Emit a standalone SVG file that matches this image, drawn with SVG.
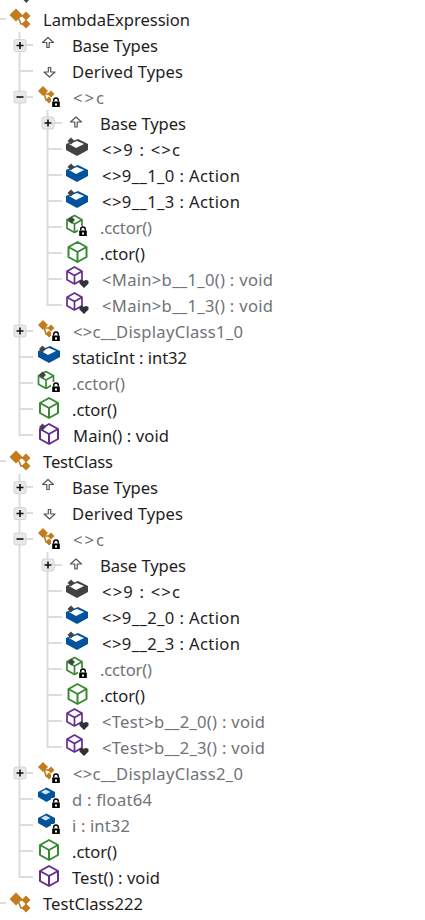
<svg xmlns="http://www.w3.org/2000/svg" width="425" height="920" viewBox="0 0 425 920">
<style>
text{font-family:"Noto Sans","Open Sans","Liberation Sans",sans-serif;font-size:16.6px;fill:#1e1e1e}
.g{fill:#6f7378}
.t{stroke:#dcdcdc;stroke-width:2;fill:none}
.k{fill:#c27c1e}
.kl{stroke:#c27c1e;stroke-width:1.6;fill:none}
.cube{stroke-width:2;stroke-linejoin:round}
.thin{stroke-width:1.7}
.green{stroke:#388a34;fill:#fff}
.purple{stroke:#652d90;fill:#fff}
</style>
<defs>
<g id="cls">
<path class="kl" d="M-2-3 1 4H6M0-4H6"/>
<path class="k" d="M-4-11.500 2.500-5-4 1.500-10.500-5Z"/>
<path class="k" d="M6-8.500 10.500-4 6 .5 1.500-4Z"/>
<path class="k" d="M6 -.5 10.500 4 6 8.500 1.500 4Z"/>
</g>
<g id="clsS">
<path class="kl" d="M-2-5 0 2H3M-1-4H5"/>
<path class="k" d="M-3-12 2-7-3-2-8-7Z"/>
<path class="k" d="M5-7.500 8.500-4 5-.5 1.500-4Z"/>
<path class="k" d="M3-1.500 6.500 2 3 5.500-.5 2Z"/>
</g>
<g id="lock">
<rect x="-5" y="-5.500" width="10" height="11.500" fill="#fff"/>
<path d="M-2.300-1V-2.200A2.300 2.300 0 0 1 2.300-2.200V-1" fill="none" stroke="#000" stroke-width="1.400"/>
<rect x="-3.800" y="-1" width="7.600" height="5.500" fill="#000"/>
<rect x="-1" y="1" width="2" height="2" fill="#fff"/>
</g>
<g id="heart">
<path d="M0 5-4.500 .5A2.600 2.600 0 0 1 0-2 2.600 2.600 0 0 1 4.500 .5Z" fill="#333"/>
</g>
<path id="dia" d="M0-3.500 3.500 0 0 3.500-3.500 0Z" fill="#444"/>
<g id="plus">
<rect x="-6" y="-6" width="12" height="12" rx="2" fill="#e8e8e8" stroke="#d4d4d4"/>
<path d="M-3.500 0H3.500M0-3.500V3.500" stroke="#111" stroke-width="1.600"/>
</g>
<g id="minus">
<rect x="-6" y="-6" width="12" height="12" rx="2" fill="#e8e8e8" stroke="#d4d4d4"/>
<path d="M-3.500 0H3.500" stroke="#111" stroke-width="1.600"/>
</g>
<path id="up" d="M0-7.500 5.500-2.500H1.200V2.500H-1.200V-2.500H-5.500Z" fill="#fff" stroke="#555" stroke-width="1.200" stroke-linejoin="round"/>
<path id="down" d="M0 5 5.500 0H1.200V-4.500H-1.200V0H-5.500Z" fill="#fff" stroke="#555" stroke-width="1.200" stroke-linejoin="round"/>
<g id="field">
<path d="M1-10 11-5V1L0 7-11 1V-5Z" fill="#00539c"/>
<path d="M0-8 7-5-1-1-8-5Z" fill="#fff"/>
</g>
<g id="fieldK">
<path d="M1-10 11-5V1L0 7-11 1V-5Z" fill="#424242"/>
<path d="M0-8 7-5-1-1-8-5Z" fill="#fff"/>
</g>
<g id="fieldS">
<path d="M0-7.500 8.500-3V2L0 7-8.500 2V-3Z" fill="#00539c"/>
<path d="M-1-5.500 4-3-1-.5-5.500-3Z" fill="#d6e4f2"/>
</g>
<g id="cube">
<path d="M0-10 9-5V5L0 10-9 5V-5Z"/>
<path d="M-9-5 0 0 9-5M0 0V10" fill="none"/>
</g>
<g id="cubeS">
<path d="M0-8.500 7.500-4.250V4.250L0 8.500-7.500 4.250V-4.250Z"/>
<path d="M-7.500-4.250 0 0 7.500-4.250M0 0V8.500" fill="none"/>
</g>
</defs>
<g id="connectors">
<path class="t" d="M0 19H6M0 461H6M0 903H6"/>
<path class="t" d="M19.500 32V435H33M19.500 45H33M19.500 71H33M19.500 97H33M19.500 331H33M19.500 357H33M19.500 383H33M19.500 409H33"/>
<path class="t" d="M47.500 110V305H62M47.500 123H62M47.500 149H62M47.500 175H62M47.500 201H62M47.500 227H62M47.500 253H62M47.500 279H62"/>
<path class="t" d="M19.500 474V877H33M19.500 487H33M19.500 513H33M19.500 539H33M19.500 773H33M19.500 799H33M19.500 825H33M19.500 851H33"/>
<path class="t" d="M47.500 552V747H62M47.500 565H62M47.500 591H62M47.500 617H62M47.500 643H62M47.500 669H62M47.500 695H62M47.500 721H62"/>
</g>
<path id="top-tip" d="M23.500 0H29L26.500 3Z" fill="#444"/>

<g id="n1"><use href="#cls" x="20" y="20"/><text x="43" y="26" textLength="147">LambdaExpression</text></g>
<g id="n2"><use href="#plus" x="20" y="45.500"/><use href="#up" x="48" y="45"/><text x="72" y="52" textLength="86">Base Types</text></g>
<g id="n3"><use href="#down" x="49.500" y="72"/><text x="72" y="78" textLength="111">Derived Types</text></g>
<g id="n4"><use href="#minus" x="20" y="97"/><use href="#clsS" x="46" y="98"/><use href="#lock" x="56" y="102.500"/><text class="g" x="73" y="104" textLength="31">&lt;&gt;c</text></g>
<g id="n5"><use href="#plus" x="48" y="123"/><use href="#up" x="76" y="124.500"/><text x="100" y="130" textLength="86">Base Types</text></g>
<g id="n6"><use href="#fieldK" x="77" y="149"/><use href="#dia" x="71" y="141"/><text x="102" y="156" textLength="78">&lt;&gt;9 : &lt;&gt;c</text></g>
<g id="n7"><use href="#field" x="77" y="175"/><use href="#dia" x="71" y="167"/><text x="102" y="182" textLength="138">&lt;&gt;9__1_0 : Action</text></g>
<g id="n8"><use href="#field" x="77" y="201"/><use href="#dia" x="71" y="193"/><text x="102" y="208" textLength="138">&lt;&gt;9__1_3 : Action</text></g>
<g id="n9"><use href="#cubeS" class="cube thin green" x="74.500" y="224"/><use href="#dia" x="71.500" y="220"/><use href="#lock" x="83" y="231.500"/><text class="g" x="100" y="234" textLength="52">.cctor()</text></g>
<g id="n10"><use href="#cube" class="cube green" x="77.500" y="252"/><text x="100" y="260" textLength="45">.ctor()</text></g>
<g id="n11"><use href="#cubeS" class="cube thin purple" x="74.500" y="275.500"/><use href="#heart" x="84" y="283"/><text class="g" x="102" y="286" textLength="171">&lt;Main&gt;b__1_0() : void</text></g>
<g id="n12"><use href="#cubeS" class="cube thin purple" x="74.500" y="301.500"/><use href="#heart" x="84" y="309"/><text class="g" x="102" y="312" textLength="171">&lt;Main&gt;b__1_3() : void</text></g>
<g id="n13"><use href="#plus" x="20" y="331"/><use href="#clsS" x="46" y="332"/><use href="#lock" x="56" y="336.500"/><text class="g" x="73" y="338" textLength="170">&lt;&gt;c__DisplayClass1_0</text></g>
<g id="n14"><use href="#field" x="49" y="356"/><use href="#dia" x="42.500" y="349"/><text x="72" y="364" textLength="115">staticInt : int32</text></g>
<g id="n15"><use href="#cubeS" class="cube thin green" x="46" y="380"/><use href="#dia" x="42.500" y="375"/><use href="#lock" x="56" y="387.500"/><text class="g" x="72" y="390" textLength="53">.cctor()</text></g>
<g id="n16"><use href="#cube" class="cube green" x="49" y="408"/><text x="72" y="416" textLength="45">.ctor()</text></g>
<g id="n17"><use href="#cube" class="cube purple" x="49" y="434"/><use href="#dia" x="42.500" y="427"/><text x="73" y="442" textLength="96">Main() : void</text></g>

<g id="n18"><use href="#cls" x="20" y="462"/><text x="43" y="468" textLength="70">TestClass</text></g>
<g id="n19"><use href="#plus" x="20" y="487.500"/><use href="#up" x="48" y="487"/><text x="72" y="494" textLength="86">Base Types</text></g>
<g id="n20"><use href="#plus" x="20" y="513.500"/><use href="#down" x="49.500" y="514"/><text x="72" y="520" textLength="111">Derived Types</text></g>
<g id="n21"><use href="#minus" x="20" y="539"/><use href="#clsS" x="46" y="540"/><use href="#lock" x="56" y="544.500"/><text class="g" x="73" y="546" textLength="31">&lt;&gt;c</text></g>
<g id="n22"><use href="#plus" x="48" y="565"/><use href="#up" x="76" y="566.500"/><text x="100" y="572" textLength="86">Base Types</text></g>
<g id="n23"><use href="#fieldK" x="77" y="591"/><use href="#dia" x="71" y="583"/><text x="102" y="598" textLength="78">&lt;&gt;9 : &lt;&gt;c</text></g>
<g id="n24"><use href="#field" x="77" y="617"/><use href="#dia" x="71" y="609"/><text x="102" y="624" textLength="138">&lt;&gt;9__2_0 : Action</text></g>
<g id="n25"><use href="#field" x="77" y="643"/><use href="#dia" x="71" y="635"/><text x="102" y="650" textLength="138">&lt;&gt;9__2_3 : Action</text></g>
<g id="n26"><use href="#cubeS" class="cube thin green" x="74.500" y="666"/><use href="#dia" x="71.500" y="662"/><use href="#lock" x="83" y="673.500"/><text class="g" x="100" y="676" textLength="52">.cctor()</text></g>
<g id="n27"><use href="#cube" class="cube green" x="77.500" y="694"/><text x="100" y="702" textLength="45">.ctor()</text></g>
<g id="n28"><use href="#cubeS" class="cube thin purple" x="74.500" y="717.500"/><use href="#heart" x="84" y="725"/><text class="g" x="102" y="728" textLength="163">&lt;Test&gt;b__2_0() : void</text></g>
<g id="n29"><use href="#cubeS" class="cube thin purple" x="74.500" y="743.500"/><use href="#heart" x="84" y="751"/><text class="g" x="102" y="754" textLength="163">&lt;Test&gt;b__2_3() : void</text></g>
<g id="n30"><use href="#plus" x="20" y="773"/><use href="#clsS" x="46" y="774"/><use href="#lock" x="56" y="778.500"/><text class="g" x="73" y="780" textLength="170">&lt;&gt;c__DisplayClass2_0</text></g>
<g id="n31"><use href="#fieldS" x="46.500" y="795"/><use href="#lock" x="56" y="803.500"/><text class="g" x="72" y="806" textLength="80">d : float64</text></g>
<g id="n32"><use href="#fieldS" x="46.500" y="821"/><use href="#lock" x="56" y="829.500"/><text class="g" x="72" y="832" textLength="58">i : int32</text></g>
<g id="n33"><use href="#cube" class="cube green" x="49" y="850"/><text x="72" y="858" textLength="45">.ctor()</text></g>
<g id="n34"><use href="#cube" class="cube purple" x="49" y="876"/><text x="72" y="884" textLength="88">Test() : void</text></g>
<g id="n35"><use href="#cls" x="20" y="904"/><text x="43" y="910" textLength="100">TestClass222</text></g>
</svg>
